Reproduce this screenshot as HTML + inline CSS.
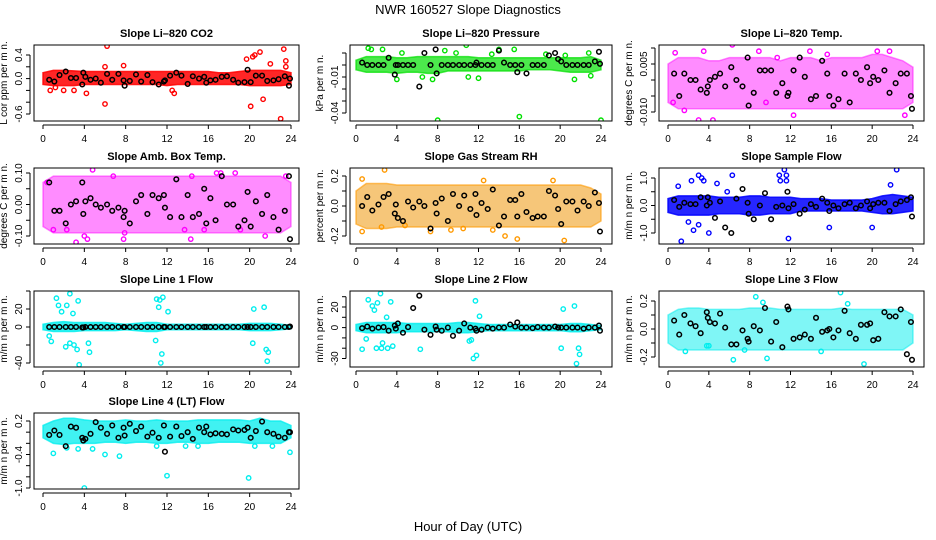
<!DOCTYPE html>
<html><head><meta charset="utf-8"><style>
html,body{margin:0;padding:0;background:#fff;}
svg{display:block;font-family:"Liberation Sans",sans-serif;}
</style></head><body>
<svg id="chart" width="936" height="540" viewBox="0 0 936 540">
<text x="468" y="14" text-anchor="middle" font-size="13">NWR  160527  Slope Diagnostics</text>
<text x="468" y="531" text-anchor="middle" font-size="13">Hour of Day (UTC)</text>
</svg>
<script>
const hours = [0,1,2,3,4,5,6,7,8,9,10,11,12,13,14,15,16,17,18,19,20,21,22,23,24];
const xTicks = [0,4,8,12,16,20,24];
const blackX = [0.6,1.1,1.6,2.2,2.7,3.2,3.8,3.9,4.1,4.6,5.1,5.6,6.2,6.7,7.3,7.8,7.9,8.4,9.0,9.5,10.1,10.6,11.2,11.7,11.8,12.3,12.9,13.4,14.0,14.5,15.1,15.6,15.8,16.2,16.7,17.3,17.8,18.4,18.9,19.5,19.8,20.1,20.6,21.2,21.7,22.3,22.8,23.4,23.8,23.9];

const co2Lo = [-0.1,-0.12,-0.12,-0.12,-0.1,-0.1,-0.1,-0.1,-0.1,-0.1,-0.1,-0.1,-0.12,-0.1,-0.1,-0.1,-0.1,-0.1,-0.1,-0.1,-0.12,-0.12,-0.12,-0.12,-0.1];
const co2Hi = [0.1,0.14,0.14,0.13,0.12,0.12,0.12,0.12,0.12,0.12,0.12,0.12,0.12,0.12,0.12,0.12,0.12,0.1,0.1,0.12,0.14,0.14,0.14,0.14,0.1];
const co2OutX = [6.2,6.0,6.0,7.8,19.7,20.3,20.5,21.0,23.3,23.5,23.5,21.3,20.1,23.0,0.7,4.2,12.5,2.0,3.0,12.7,22.0,1.2];
const co2OutY = [0.55,-0.43,0.2,0.22,0.33,0.37,0.4,0.45,0.5,0.3,0.2,-0.35,-0.47,-0.68,-0.2,-0.25,-0.2,-0.2,-0.2,-0.25,0.25,-0.15];
const co2Black = [-0.02,-0.05,0.06,0.12,0.01,0.01,-0.1,0.1,0.03,-0.02,0.0,-0.07,0.08,-0.02,0.08,-0.03,-0.12,-0.04,0.07,-0.05,0.06,-0.06,-0.1,-0.05,-0.03,0.05,0.1,0.05,-0.09,0.04,0.0,0.03,-0.07,-0.03,-0.02,0.03,0.04,-0.02,-0.07,-0.06,0.15,-0.06,0.05,0.05,-0.04,-0.03,-0.01,0.04,-0.12,0.0];

const presLo = [-0.004,-0.006,-0.006,-0.006,-0.007,-0.006,-0.006,-0.007,-0.007,-0.005,-0.005,-0.005,-0.005,-0.005,-0.005,-0.005,-0.005,-0.004,-0.004,-0.004,-0.005,-0.006,-0.006,-0.006,-0.004];
const presHi = [0.004,0.007,0.007,0.007,0.006,0.006,0.007,0.007,0.007,0.007,0.007,0.007,0.006,0.006,0.006,0.006,0.006,0.006,0.006,0.006,0.006,0.006,0.006,0.007,0.004];
const presOutX = [1.2,1.5,10.8,8.0,16.0,24.0,4.0,4.5,6.5,7.5,11.0,12.0,21.4,23.0,15.5,8.7,18.6,20.5,2.6,13.3,9.8,22.8,14.0];
const presOutY = [0.014,0.013,0.0165,-0.046,-0.043,-0.046,-0.012,0.01,-0.01,-0.012,-0.01,-0.011,-0.012,-0.009,0.013,0.012,0.009,0.008,0.013,0.009,0.01,0.01,0.013];
const presBlack = [0.002,0,0,0,0,0.006,-0.008,0,0,0,0,0,-0.018,0.01,0,0.013,-0.007,0,0,0,0,0,0,0,0.002,0,0,0,0.012,0.002,0,0,-0.006,0,-0.007,0,0,0,0.008,0.01,0.005,0.003,0,0,0,0,0,0.003,0.011,0.001];

const tempLo = [-0.007,-0.009,-0.009,-0.009,-0.009,-0.009,-0.009,-0.009,-0.009,-0.009,-0.009,-0.009,-0.009,-0.009,-0.009,-0.009,-0.009,-0.009,-0.009,-0.009,-0.009,-0.009,-0.009,-0.009,-0.007];
const tempHi = [0.005,0.007,0.007,0.007,0.006,0.006,0.007,0.007,0.007,0.007,0.007,0.006,0.007,0.007,0.007,0.006,0.007,0.007,0.007,0.007,0.008,0.008,0.007,0.006,0.004];
const tempOutX = [0.7,3.5,6.3,4.4,3.0,1.6,18.9,12.3,23.2,13.9,8.9,20.5,21.7,15.6,10.7,0.5,9.6];
const tempOutY = [0.0085,0.009,0.011,-0.0125,-0.0125,-0.0095,-0.0145,-0.011,-0.011,0.009,0.009,0.009,0.009,0.008,0.007,-0.007,-0.007];
const tempBlack = [0.002,-0.005,0.002,0.0,0.0,-0.003,-0.004,-0.002,0.0,0.001,0.002,-0.002,0.004,0.0,-0.002,0.007,-0.008,-0.004,0.003,0.003,0.003,-0.004,-0.001,-0.005,-0.004,0.003,0.007,0.001,-0.006,-0.005,0.006,0.002,-0.005,-0.008,-0.006,0.002,-0.007,0.002,0.0,0.004,-0.001,0.001,0.0,0.003,-0.004,-0.001,0.002,0.002,-0.005,-0.009];

const ambLo = [-0.07,-0.09,-0.09,-0.09,-0.09,-0.09,-0.09,-0.09,-0.09,-0.09,-0.09,-0.09,-0.09,-0.09,-0.09,-0.09,-0.09,-0.09,-0.09,-0.09,-0.09,-0.09,-0.09,-0.09,-0.07];
const ambHi = [0.07,0.09,0.09,0.09,0.09,0.09,0.09,0.09,0.09,0.09,0.09,0.09,0.09,0.09,0.09,0.09,0.09,0.09,0.09,0.09,0.09,0.09,0.09,0.09,0.07];
const ambOutX = [3.2,4.0,4.3,4.8,6.8,7.9,7.8,13.7,14.3,14.4,15.6,16.8,17.2,18.6,19.1,21.5,23.5,0.4,1.0,2.3];
const ambOutY = [-0.12,-0.1,-0.11,0.11,0.09,-0.09,-0.11,-0.08,-0.11,0.09,-0.08,0.1,0.1,0.1,-0.08,-0.1,0.09,0.07,-0.08,-0.08];
const ambBlack = [0.07,-0.02,-0.02,-0.06,0.0,0.01,0.07,-0.03,0.01,0.02,0.0,-0.01,0.0,-0.02,-0.01,-0.04,-0.02,-0.06,0.01,0.03,-0.03,0.03,0.02,0.03,-0.01,-0.04,0.08,-0.04,0.03,-0.04,-0.03,0.05,-0.06,0.02,-0.05,0.09,0.0,0.0,-0.07,-0.05,0.04,-0.07,0.01,-0.03,0.03,-0.04,-0.08,-0.02,0.09,-0.11];

const rhLo = [-0.12,-0.15,-0.15,-0.15,-0.14,-0.14,-0.14,-0.14,-0.14,-0.14,-0.14,-0.14,-0.14,-0.14,-0.14,-0.14,-0.14,-0.14,-0.14,-0.14,-0.14,-0.14,-0.14,-0.14,-0.1];
const rhHi = [0.1,0.15,0.15,0.15,0.14,0.14,0.14,0.14,0.14,0.14,0.14,0.14,0.14,0.14,0.14,0.14,0.14,0.14,0.14,0.14,0.14,0.14,0.14,0.12,0.08];
const rhOutX = [0.6,2.8,0.6,7.3,9.3,12.5,13.4,14.6,15.8,20.4,19.3,4.8,10.5,2.5];
const rhOutY = [0.18,0.24,-0.17,-0.17,-0.16,0.17,-0.16,-0.2,-0.22,-0.23,0.17,-0.13,-0.15,-0.14];
const rhBlack = [0.0,0.06,-0.03,0.01,0.06,0.08,-0.05,0.01,-0.08,-0.1,0.03,-0.01,0.03,0.0,-0.15,0.02,-0.05,0.05,-0.1,0.08,0.0,0.07,-0.02,0.08,-0.06,0.02,-0.02,0.11,-0.13,-0.07,0.04,0.04,-0.07,0.08,-0.04,-0.08,-0.07,-0.07,0.1,0.07,-0.02,-0.12,0.03,0.03,-0.03,0.03,0.0,0.09,0.02,-0.17];

const flowLo = [-0.25,-0.35,-0.35,-0.35,-0.35,-0.3,-0.3,-0.3,-0.35,-0.35,-0.3,-0.3,-0.3,-0.2,-0.2,-0.2,-0.2,-0.2,-0.2,-0.2,-0.25,-0.3,-0.3,-0.25,-0.2];
const flowHi = [0.25,0.35,0.35,0.35,0.35,0.3,0.3,0.3,0.35,0.35,0.3,0.3,0.3,0.25,0.25,0.25,0.2,0.2,0.2,0.2,0.25,0.35,0.4,0.35,0.3];
const flowOutX = [1.3,1.0,3.0,3.3,3.5,2.3,6.3,11.0,11.4,11.6,11.8,11.6,10.9,4.0,2.5,2.0,15.8,20.0,21.8,22.4,3.0,4.8,5.8];
const flowOutY = [-1.3,0.7,1.1,1.0,0.9,0.9,1.1,0.9,1.3,1.1,-1.2,0.9,1.1,-1.0,-0.9,-0.6,-0.8,-0.8,0.75,1.3,-0.7,0.8,0.5];
const flowBlack = [0.2,-0.05,0.1,0.05,0.05,0.3,0.0,0.3,0.1,-0.45,0.15,-0.8,-1.0,0.25,0.6,0.1,-0.3,-0.5,0.0,0.45,-0.5,-0.05,0.0,0.5,-0.1,0.05,-0.3,-0.15,0.05,-0.05,0.25,0.1,-0.2,0.0,-0.1,0.05,0.1,-0.1,0.0,0.15,-0.1,0.05,0.1,0.1,-0.2,0.05,0.15,0.2,0.3,-0.4];

const l1Lo = [-3,-5,-5,-5,-4,-4,-4,-4,-3,-4,-5,-5,-3,-3,-3,-3,-3,-3,-3,-3,-4,-4,-4,-3,-2];
const l1Hi = [3,5,6,5,5,5,5,4,3,4,5,5,3,3,3,3,3,3,3,3,4,4,4,3,2];
const l1OutX = [1.3,1.5,1.8,2.3,2.6,2.9,3.4,2.2,2.6,3.0,3.3,3.5,4.5,4.4,0.8,11.0,11.3,11.6,11.2,11.5,10.9,12.1,11.4,21.4,20.4,21.7,20.3,21.6,21.8,0.6];
const l1OutY = [32,24,17,24,37,15,29,-22,-18,-20,-25,-42,-28,-18,-16,31,30,33,22,-30,-15,17,-40,22,20,-38,-18,-25,-28,-10];
const l1Black = [0,0,0,0,0,0,-0.5,-0.5,0,0,0,0,0,0,0,0,0,0,0,0,0,0,0,0,0,0,0,0,0,0,0,0,0,0,0,0,0,0,0,0,0,0,0,0,0,0,0,0,0,0.5];

const l2Lo = [-3,-5,-5,-5,-5,-4,-4,-4,-4,-4,-5,-5,-4,-3,-3,-3,-3,-3,-3,-3,-3,-4,-4,-3,-2];
const l2Hi = [3,5,5,5,5,4,4,4,4,4,5,5,4,3,3,3,3,3,3,3,3,4,4,3,2];
const l2OutX = [1.2,1.6,1.8,2.1,2.4,2.5,3.0,3.4,2.0,2.6,3.1,3.6,0.6,6.3,11.7,12.1,11.3,11.1,11.5,11.8,20.3,21.4,20.1,21.8,21.6,21.9,1.0];
const l2OutY = [27,21,17,24,33,-20,10,25,-20,-15,-20,-18,-21,-21,26,11,-12,-13,-30,-27,18,21,-20,-20,-35,-26,-11];
const l2Black = [-0.5,1,-1,0,0.5,-3,2,-1,4,-5,0.5,19,31,-2,-7,1,-2,-3,0,-8,-3,4,0,-1,-3,-2,0,-1,0,0,3,1,5,0,0,-0.5,0.5,0,0,1,0,0,0,0,0,-1,0,0,2,-3];

const l3Lo = [-0.1,-0.15,-0.15,-0.15,-0.15,-0.15,-0.15,-0.15,-0.15,-0.15,-0.15,-0.15,-0.15,-0.15,-0.15,-0.15,-0.15,-0.15,-0.15,-0.15,-0.15,-0.15,-0.15,-0.15,-0.1];
const l3Hi = [0.1,0.14,0.15,0.15,0.14,0.14,0.14,0.14,0.15,0.15,0.15,0.14,0.14,0.14,0.14,0.14,0.14,0.15,0.14,0.14,0.14,0.14,0.14,0.14,0.1];
const l3OutX = [1.7,3.8,6.4,8.6,9.7,16.9,19.2,9.3,7.5,15.0,4.0,17.6];
const l3OutY = [-0.16,-0.12,-0.22,0.23,-0.21,0.26,-0.25,0.19,-0.15,-0.16,-0.12,0.18];
const l3Black = [0.06,-0.04,0.1,0.04,0.02,-0.03,0.12,0.08,0.05,0.04,0.11,0.01,-0.11,-0.11,-0.01,-0.07,-0.09,0.02,-0.01,0.15,-0.09,0.05,-0.13,0.16,0.14,-0.07,-0.06,-0.04,-0.07,0.08,-0.02,-0.01,0.0,-0.06,-0.01,0.13,-0.03,-0.07,0.03,0.03,0.04,-0.08,-0.07,0.12,0.09,0.09,0.14,-0.18,0.05,-0.22];

const l4Lo = [-0.1,-0.2,-0.22,-0.2,-0.2,-0.2,-0.18,-0.18,-0.2,-0.18,-0.18,-0.2,-0.2,-0.18,-0.18,-0.2,-0.2,-0.18,-0.18,-0.18,-0.2,-0.2,-0.2,-0.2,-0.1];
const l4Hi = [0.12,0.2,0.25,0.25,0.22,0.2,0.2,0.2,0.22,0.2,0.2,0.22,0.2,0.2,0.2,0.22,0.22,0.22,0.22,0.22,0.2,0.25,0.2,0.2,0.12];
const l4OutX = [1.0,4.0,12.0,19.9,6.0,7.4,3.4,11.0,15.0,23.9,2.3,4.8,13.8,22.2,20.5];
const l4OutY = [-0.38,-1.0,-0.78,-0.82,-0.4,-0.43,-0.3,-0.25,-0.25,-0.36,-0.28,-0.3,-0.25,-0.25,-0.25];
const l4Black = [-0.05,0.03,-0.05,-0.25,0.1,0.08,-0.1,-0.15,-0.12,-0.03,0.18,0.08,-0.03,0.12,-0.1,0.08,-0.06,0.15,0.02,0.1,-0.08,-0.01,-0.1,0.12,-0.35,-0.08,0.1,-0.07,0.0,-0.12,0.08,0.0,0.1,-0.04,-0.02,-0.03,-0.04,0.05,0.03,0.04,0.08,-0.1,0.02,0.19,0.0,-0.03,-0.08,-0.1,0.0,0.0];

const co2Ticks=[0.4,0.2,0,-0.2,-0.4,-0.6], co2Labels=["0.4","","0.0","","","-0.6"];
const presTicks=[0.01,0,-0.01,-0.02,-0.03,-0.04], presLabels=["","","-0.01","","","-0.04"];
const tempTicks=[0.01,0.005,0,-0.005,-0.01], tempLabels=["","0.005","","","-0.010"];
const ambTicks=[0.1,0.05,0,-0.05,-0.1], ambLabels=["0.10","","0.00","","-0.10"];
const rhTicks=[0.2,0.1,0,-0.1,-0.2], rhLabels=["0.2","","0.0","","-0.2"];
const flowTicks=[1,0.5,0,-0.5,-1], flowLabels=["1.0","","0.0","","-1.0"];
const l1Ticks=[40,20,0,-20,-40], l1Labels=["","20","0","","-40"];
const l2Ticks=[30,20,10,0,-10,-20,-30], l2Labels=["","20","","0","","","-30"];
const l3Ticks=[0.2,0.1,0,-0.1,-0.2], l3Labels=["0.2","","0.0","","-0.2"];
const l4Ticks=[0.2,0,-0.2,-0.4,-0.6,-0.8,-1.0], l4Labels=["0.2","","","-0.4","","","-1.0"];

const NS="http://www.w3.org/2000/svg";
const svg=document.getElementById('chart');
const cols=[{L:34,R:299,x0:43,x24:291},{L:350,R:612,x0:356,x24:601},{L:659,R:924,x0:668,x24:913}];
const rows=[{T:45,B:121},{T:168,B:244},{T:291,B:367},{T:413,B:489}];
function mk(tag,attrs,parent){const e=document.createElementNS(NS,tag);for(const k in attrs)e.setAttribute(k,attrs[k]);(parent||svg).appendChild(e);return e;}

const panels=[
 {name:'co2',title:'Slope Li\u2013820 CO2',ylab:'L cor ppm per m n.',c:0,r:0,y1:0.4,p1:55,y2:-0.6,p2:114,lo:co2Lo,hi:co2Hi,ox:co2OutX,oy:co2OutY,bk:co2Black,tk:co2Ticks,tl:co2Labels,col:'#ff0000',fill:'#ff0000',op:0.85},
 {name:'pressure',title:'Slope Li\u2013820 Pressure',ylab:'kPa per m n.',c:1,r:0,y1:0.01,p1:53,y2:-0.04,p2:113,lo:presLo,hi:presHi,ox:presOutX,oy:presOutY,bk:presBlack,tk:presTicks,tl:presLabels,col:'#00e000',fill:'#00e000',op:0.7},
 {name:'temp',title:'Slope Li\u2013820 Temp.',ylab:'degrees C per m n.',c:2,r:0,y1:0.005,p1:64,y2:-0.01,p2:112,lo:tempLo,hi:tempHi,ox:tempOutX,oy:tempOutY,bk:tempBlack,tk:tempTicks,tl:tempLabels,col:'#ff00ff',fill:'#ff00ff',op:0.45},
 {name:'amb-box-temp',title:'Slope Amb. Box Temp.',ylab:'degrees C per m n.',c:0,r:1,y1:0.1,p1:173,y2:-0.1,p2:236,lo:ambLo,hi:ambHi,ox:ambOutX,oy:ambOutY,bk:ambBlack,tk:ambTicks,tl:ambLabels,col:'#ff00ff',fill:'#ff00ff',op:0.45},
 {name:'gas-rh',title:'Slope Gas Stream RH',ylab:'percent per m n.',c:1,r:1,y1:0.2,p1:176,y2:-0.2,p2:236,lo:rhLo,hi:rhHi,ox:rhOutX,oy:rhOutY,bk:rhBlack,tk:rhTicks,tl:rhLabels,col:'#ff9900',fill:'#f0a020',op:0.6},
 {name:'sample-flow',title:'Slope Sample Flow',ylab:'m/m n per m n.',c:2,r:1,y1:1,p1:178,y2:-1,p2:233,lo:flowLo,hi:flowHi,ox:flowOutX,oy:flowOutY,bk:flowBlack,tk:flowTicks,tl:flowLabels,col:'#0000ff',fill:'#0000ff',op:0.85},
 {name:'line1-flow',title:'Slope Line 1 Flow',ylab:'m/m n per m n.',c:0,r:2,y1:20,p1:309,y2:-40,p2:363,lo:l1Lo,hi:l1Hi,ox:l1OutX,oy:l1OutY,bk:l1Black,tk:l1Ticks,tl:l1Labels,col:'#00eeee',fill:'#00eeee',op:0.8},
 {name:'line2-flow',title:'Slope Line 2 Flow',ylab:'m/m n per m n.',c:1,r:2,y1:20,p1:307,y2:-30,p2:358.5,lo:l2Lo,hi:l2Hi,ox:l2OutX,oy:l2OutY,bk:l2Black,tk:l2Ticks,tl:l2Labels,col:'#00eeee',fill:'#00eeee',op:0.8},
 {name:'line3-flow',title:'Slope Line 3 Flow',ylab:'m/m n per m n.',c:2,r:2,y1:0.2,p1:301,y2:-0.2,p2:357,lo:l3Lo,hi:l3Hi,ox:l3OutX,oy:l3OutY,bk:l3Black,tk:l3Ticks,tl:l3Labels,col:'#00eeee',fill:'#00eeee',op:0.5},
 {name:'line4-flow',title:'Slope Line 4 (LT) Flow',ylab:'m/m n per m n.',c:0,r:3,y1:0.2,p1:421,y2:-1.0,p2:488,lo:l4Lo,hi:l4Hi,ox:l4OutX,oy:l4OutY,bk:l4Black,tk:l4Ticks,tl:l4Labels,col:'#00eeee',fill:'#00eeee',op:0.75}
];

panels.forEach(p=>{
 const C=cols[p.c],R=rows[p.r];
 const xs=h=>C.x0+(C.x24-C.x0)*h/24;
 const ys=v=>p.p1+(v-p.y1)*(p.p2-p.p1)/(p.y2-p.y1);
 const g=mk('g',{});
 
 
 const t=mk('text',{x:(C.L+C.R)/2,y:R.T-8,'text-anchor':'middle','font-size':'11','font-weight':'bold'},g);
 t.textContent=p.title;
 
 
 const cx=C.L-27, cy=(R.T+R.B)/2;
 const yl=mk('text',{x:cx,y:cy,'text-anchor':'middle','font-size':'10',transform:`rotate(-90 ${cx} ${cy})`},g);
 yl.textContent=p.ylab;
 
 
 const cl=mk('clipPath',{id:'clip'+p.name},g);
 mk('rect',{x:C.L,y:R.T,width:C.R-C.L,height:R.B-R.T},cl);
 const dg=mk('g',{'clip-path':`url(#clip${p.name})`},g);
 let pts=hours.map((h,i)=>`${xs(h)},${ys(p.hi[i])}`);
 pts=pts.concat(hours.slice().reverse().map((h,j)=>`${xs(h)},${ys(p.lo[hours.length-1-j])}`));
 const band=mk('polygon',{points:pts.join(' '),fill:p.fill,'fill-opacity':p.op,stroke:p.col,'stroke-opacity':p.op,'stroke-width':'1.5'},dg);
 
 
 p.ox.forEach((x,i)=>{
  const c=mk('circle',{cx:xs(x),cy:ys(p.oy[i]),r:2.2,fill:'none',stroke:p.col,'stroke-width':'1.4'},dg);
  
  
 });
 blackX.forEach((x,i)=>{
  const c=mk('circle',{cx:xs(x),cy:ys(p.bk[i]),r:2.3,fill:'none',stroke:'#000','stroke-width':'1.5'},dg);
  
  
 });
 const box=mk('rect',{x:C.L,y:R.T,width:C.R-C.L,height:R.B-R.T,fill:'none',stroke:'#000','stroke-width':'1'},g);
 
 
 mk('line',{x1:xs(0),x2:xs(24),y1:R.B+4,y2:R.B+4,stroke:'#000'},g);
 xTicks.forEach(h=>{
  mk('line',{x1:xs(h),x2:xs(h),y1:R.B+4,y2:R.B+8,stroke:'#000'},g);
  const tx=mk('text',{x:xs(h),y:R.B+21,'text-anchor':'middle','font-size':'10'},g);
  tx.textContent=h;
  
  
 });
 const yt0=ys(p.tk[0]),yt1=ys(p.tk[p.tk.length-1]);
 mk('line',{x1:C.L-4,x2:C.L-4,y1:yt0,y2:yt1,stroke:'#000'},g);
 p.tk.forEach((v,i)=>{
  const y=ys(v);
  mk('line',{x1:C.L-8,x2:C.L-4,y1:y,y2:y,stroke:'#000'},g);
  if(p.tl[i]){
   const lx=C.L-12;
   const tl=mk('text',{x:lx,y:y,'text-anchor':'middle','font-size':'10',transform:`rotate(-90 ${lx} ${y})`},g);
   tl.textContent=p.tl[i];
   
   
  }
 });
});
</script>
</body></html>
